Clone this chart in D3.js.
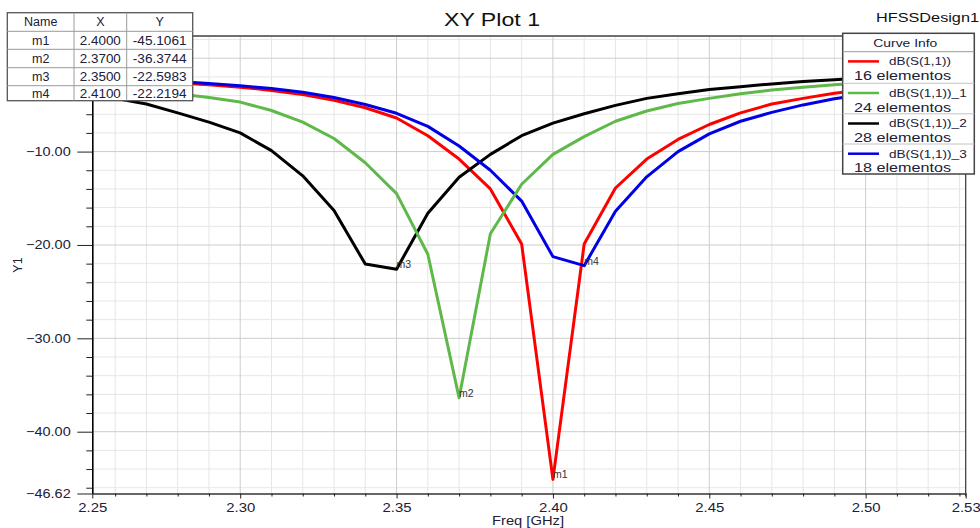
<!DOCTYPE html>
<html><head><meta charset="utf-8">
<script src="https://cdn.jsdelivr.net/npm/d3@7"></script>
<style>
html,body{margin:0;padding:0;background:#fff;}
svg{display:block;font-family:"Liberation Sans",Arial,sans-serif;}
</style></head><body>
<svg id="chart" width="980" height="528"></svg>
<script>
// ---------------- data ----------------
const freqs = [2.25,2.26,2.27,2.28,2.29,2.30,2.31,2.32,2.33,2.34,2.35,2.36,2.37,2.38,2.39,2.40,2.41,2.42,2.43,2.44,2.45,2.46,2.47,2.48,2.49,2.50,2.51,2.52,2.53];
const s11   = [-2.3,-2.4,-2.5,-2.65,-2.85,-3.1,-3.45,-3.9,-4.5,-5.3,-6.4,-8.3,-10.8,-14.0,-19.9,-45.1061,-19.9,-13.9,-10.8,-8.7,-7.1,-5.85,-4.9,-4.3,-3.75,-3.35,-3.0,-2.7,-2.45];
const s11_1 = [-3.2,-3.35,-3.55,-3.8,-4.2,-4.7,-5.6,-6.85,-8.6,-11.2,-14.5,-21.0,-36.3744,-18.8,-13.5,-10.3,-8.4,-6.75,-5.65,-4.85,-4.3,-3.8,-3.4,-3.1,-2.85,-2.6,-2.45,-2.3,-2.2];
const s11_2 = [-3.9,-4.3,-4.9,-5.85,-6.85,-8.0,-9.9,-12.6,-16.3,-22.05,-22.5983,-16.6,-12.75,-10.3,-8.3,-6.95,-5.95,-5.05,-4.3,-3.8,-3.35,-3.05,-2.75,-2.5,-2.3,-2.1,-1.95,-1.85,-1.75];
const s11_3 = [-2.15,-2.25,-2.35,-2.5,-2.7,-2.95,-3.25,-3.65,-4.2,-4.95,-5.9,-7.3,-9.4,-12.0,-15.3,-21.25,-22.2194,-16.4,-12.7,-10.0,-8.1,-6.75,-5.8,-5.0,-4.35,-3.85,-3.45,-3.1,-2.8];

const seriesNames   = ["dB(S(1,1))","dB(S(1,1))_1","dB(S(1,1))_2","dB(S(1,1))_3"];
const seriesCounts  = ["16 elementos","24 elementos","28 elementos","18 elementos"];
const seriesColors  = ["#ff0000","#5fb84a","#000000","#0000e6"];

const markerNames  = ["m1","m2","m3","m4"];
const markerX      = [2.40,2.37,2.35,2.41];
const markerY      = [-45.1061,-36.3744,-22.5983,-22.2194];
const markerXText  = ["2.4000","2.3700","2.3500","2.4100"];
const markerYText  = ["-45.1061","-36.3744","-22.5983","-22.2194"];

const xDomain      = [2.2527, 2.532];
const yDomain      = [-46.62, 2.38];
const xMajorTicks  = [2.2527,2.30,2.35,2.40,2.45,2.50,2.532];
const xMajorLabels = ["2.25","2.30","2.35","2.40","2.45","2.50","2.53"];
const xMinorTicks  = [2.26,2.27,2.28,2.29,2.31,2.32,2.33,2.34,2.36,2.37,2.38,2.39,2.41,2.42,2.43,2.44,2.46,2.47,2.48,2.49,2.51,2.52,2.53];
const yMajorTicks  = [-46.62,-40,-30,-20,-10];
const yGridMajor   = [-40,-30,-20,-10,0];
const yMinorTicks  = [-46,-44,-42,-38,-36,-34,-32,-28,-26,-24,-22,-18,-16,-14,-12,-8,-6,-4,-2,2];

// ---------------- layout ----------------
const L = 92.3, R = 965.7, T = 36, B = 493.5;
const txt = "#20203a";
const svg = d3.select("#chart");
const x = d3.scaleLinear().domain(xDomain).range([L, R]);
const y = d3.scaleLinear().domain(yDomain).range([B, T]);

svg.append("rect").attr("width",980).attr("height",528).attr("fill","#fff");

// grid
const grid = svg.append("g");
grid.selectAll(".vmin").data(xMinorTicks).join("line")
  .attr("x1",d=>x(d)).attr("x2",d=>x(d)).attr("y1",T).attr("y2",B)
  .attr("stroke","#e6e6e6").attr("stroke-width",1);
grid.selectAll(".hmin").data(yMinorTicks).join("line")
  .attr("x1",L).attr("x2",R).attr("y1",d=>y(d)).attr("y2",d=>y(d))
  .attr("stroke","#e6e6e6").attr("stroke-width",1);
grid.selectAll(".vmaj").data(xMajorTicks.slice(1,-1)).join("line")
  .attr("x1",d=>x(d)).attr("x2",d=>x(d)).attr("y1",T).attr("y2",B)
  .attr("stroke","#cdcdcd").attr("stroke-width",1);
grid.selectAll(".hmaj").data(yGridMajor).join("line")
  .attr("x1",L).attr("x2",R).attr("y1",d=>y(d)).attr("y2",d=>y(d))
  .attr("stroke","#cdcdcd").attr("stroke-width",1);

// border top / right
svg.append("line").attr("x1",L).attr("x2",R).attr("y1",T).attr("y2",T).attr("stroke","#707070").attr("stroke-width",2);
svg.append("line").attr("x1",R).attr("x2",R).attr("y1",T).attr("y2",B+3).attr("stroke","#333").attr("stroke-width",1.2);

// curves
svg.append("clipPath").attr("id","clip").append("rect").attr("x",L).attr("y",T).attr("width",R-L).attr("height",B-T);
const allSeries = [s11, s11_1, s11_2, s11_3];
const line = d3.line().x(d=>x(d[0])).y(d=>y(d[1]));
const drawOrder = [0,2,3,1];
const curves = svg.append("g").attr("clip-path","url(#clip)");
drawOrder.forEach(i=>{
  curves.append("path").datum(freqs.map((f,k)=>[f, allSeries[i][k]]))
    .attr("d", line).attr("fill","none").attr("stroke", seriesColors[i])
    .attr("stroke-width",3).attr("stroke-linejoin","round").attr("stroke-linecap","round");
});

// marker labels
svg.append("g").selectAll("text").data(markerNames).join("text")
  .attr("x",(d,i)=>x(markerX[i])).attr("y",(d,i)=>y(markerY[i])-1)
  .attr("font-size",10.5).attr("fill","#333").text(d=>d);

// axes
const yAxis = svg.append("g").attr("transform",`translate(${L},0)`)
  .call(d3.axisLeft(y).tickValues(yMajorTicks).tickFormat(d3.format(".2f")).tickSize(15).tickSizeOuter(0).tickPadding(6.6));
yAxis.selectAll("text").attr("font-size",12.5).attr("fill",txt).attr("font-family","Liberation Sans, Arial")
  .attr("textLength",44.7).attr("lengthAdjust","spacingAndGlyphs");
yAxis.selectAll(".tick line").attr("stroke","#222");
yAxis.select(".domain").attr("stroke","#000").attr("stroke-width",1.6);
const yMinAxis = svg.append("g").attr("transform",`translate(${L},0)`)
  .call(d3.axisLeft(y).tickValues(yMinorTicks).tickFormat("").tickSize(6).tickSizeOuter(0));
yMinAxis.select(".domain").remove();
yMinAxis.selectAll(".tick line").attr("stroke","#222");

const xAxis = svg.append("g").attr("transform",`translate(0,${B})`)
  .call(d3.axisBottom(x).tickValues(xMajorTicks).tickFormat((d,i)=>xMajorLabels[i]).tickSize(5).tickSizeOuter(0).tickPadding(4.6));
xAxis.selectAll("text").attr("font-size",12.5).attr("fill",txt).attr("font-family","Liberation Sans, Arial")
  .attr("textLength",29).attr("lengthAdjust","spacingAndGlyphs");
xAxis.selectAll(".tick line").attr("stroke","#222");
xAxis.select(".domain").attr("stroke","#333").attr("stroke-width",1.6);
const xMinAxis = svg.append("g").attr("transform",`translate(0,${B})`)
  .call(d3.axisBottom(x).tickValues(xMinorTicks).tickFormat("").tickSize(3).tickSizeOuter(0));
xMinAxis.select(".domain").remove();
xMinAxis.selectAll(".tick line").attr("stroke","#222");

// axis titles
svg.append("text").attr("x",528).attr("y",525).attr("text-anchor","middle")
  .attr("font-size",12).attr("fill",txt).attr("textLength",72).attr("lengthAdjust","spacingAndGlyphs").text("Freq [GHz]");
svg.append("text").attr("transform","translate(21.5,265) rotate(-90)").attr("text-anchor","middle")
  .attr("font-size",12.5).attr("fill",txt).text("Y1");

// title
svg.append("text").attr("x",492).attr("y",26).attr("text-anchor","middle")
  .attr("font-size",18).attr("fill","#111").attr("textLength",96).attr("lengthAdjust","spacingAndGlyphs").text("XY Plot 1");
svg.append("text").attr("x",876).attr("y",22.3)
  .attr("font-size",12.5).attr("fill","#111").attr("textLength",103).attr("lengthAdjust","spacingAndGlyphs").text("HFSSDesign1");

// legend
const lg = svg.append("g");
const lgX = 842.7, lgW = 131.6, lgT = 33.3, lgB = 174;
const rowTops = [51.7, 83.3, 113.8, 144];
lg.append("rect").attr("x",lgX).attr("y",lgT).attr("width",lgW).attr("height",lgB-lgT)
  .attr("fill","#fff").attr("stroke","#444").attr("stroke-width",1.5);
lg.append("text").attr("x",905.3).attr("y",46.7).attr("text-anchor","middle").attr("font-size",10)
  .attr("fill",txt).attr("textLength",64).attr("lengthAdjust","spacingAndGlyphs").text("Curve Info");
lg.selectAll(".sep").data(rowTops).join("line")
  .attr("x1",lgX).attr("x2",lgX+lgW).attr("y1",d=>d).attr("y2",d=>d)
  .attr("stroke",(d,i)=>i===0?"#999":"#c4c4c4").attr("stroke-width",1);
seriesNames.forEach((name,i)=>{
  const t = rowTops[i];
  lg.append("line").attr("x1",848).attr("x2",879).attr("y1",t+9.7).attr("y2",t+9.7)
    .attr("stroke",seriesColors[i]).attr("stroke-width",2.5);
  lg.append("text").attr("x",889).attr("y",t+13.6).attr("font-size",10.5).attr("fill",txt)
    .attr("textLength", i===0?62:77.7).attr("lengthAdjust","spacingAndGlyphs").text(name);
  lg.append("text").attr("x",854).attr("y",t+28.3).attr("font-size",13.5).attr("fill",txt)
    .attr("textLength",97).attr("lengthAdjust","spacingAndGlyphs").text(seriesCounts[i]);
});

// marker table
const tb = svg.append("g");
const tX = [7.3, 74, 126.7, 192.7];
const tY = [12.7, 31.3, 49.3, 67.7, 85.7, 100.7];
tb.append("rect").attr("x",tX[0]).attr("y",tY[0]).attr("width",tX[3]-tX[0]).attr("height",tY[5]-tY[0])
  .attr("fill","#fff").attr("stroke","#555").attr("stroke-width",1.3);
tY.slice(1,-1).forEach(v=>tb.append("line").attr("x1",tX[0]).attr("x2",tX[3]).attr("y1",v).attr("y2",v).attr("stroke","#9a9a9a"));
tX.slice(1,-1).forEach(v=>tb.append("line").attr("x1",v).attr("x2",v).attr("y1",tY[0]).attr("y2",tY[5]).attr("stroke","#9a9a9a"));
const hdr = ["Name","X","Y"];
const colC = [40.7, 100.3, 159.7];
hdr.forEach((h,j)=>tb.append("text").attr("x",colC[j]).attr("y",26).attr("text-anchor","middle")
  .attr("font-size",12.5).attr("fill",txt).text(h));
const rowBase = [44.6, 62.8, 81.0, 98.2];
markerNames.forEach((m,i)=>{
  tb.append("text").attr("x",colC[0]).attr("y",rowBase[i]).attr("text-anchor","middle").attr("font-size",12.5).attr("fill",txt).text(m);
  tb.append("text").attr("x",colC[1]).attr("y",rowBase[i]).attr("text-anchor","middle").attr("font-size",12.5).attr("fill",txt)
    .attr("textLength",41).attr("lengthAdjust","spacingAndGlyphs").text(markerXText[i]);
  tb.append("text").attr("x",colC[2]).attr("y",rowBase[i]).attr("text-anchor","middle").attr("font-size",12.5).attr("fill",txt)
    .attr("textLength",53.7).attr("lengthAdjust","spacingAndGlyphs").text(markerYText[i]);
});
</script>
</body></html>
